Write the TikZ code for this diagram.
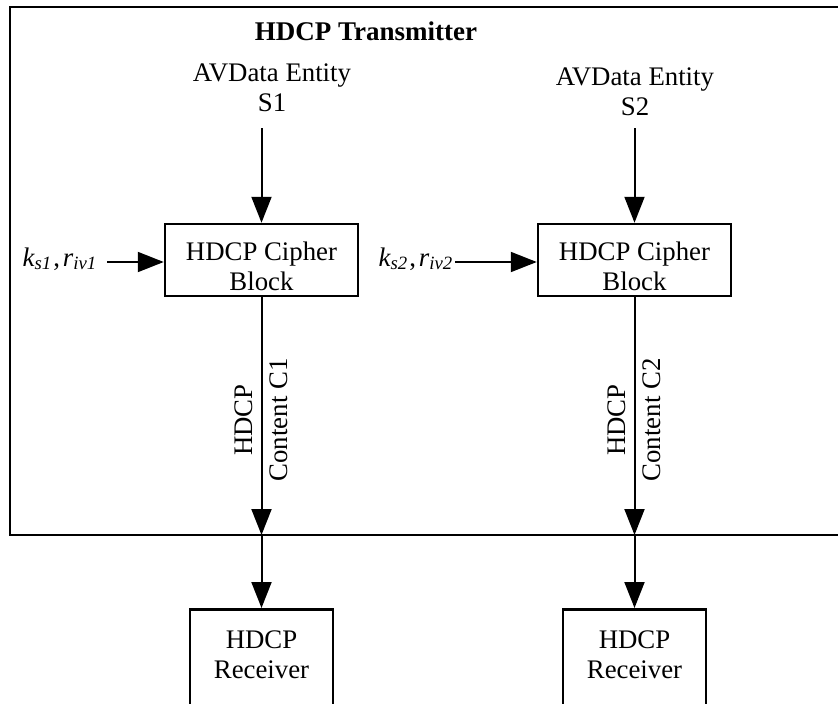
\documentclass[tikz,border=0pt]{standalone}
\usepackage{fontspec}
\setmainfont{Liberation Serif}
\usetikzlibrary{arrows.meta}
\newcommand{\kslabel}[2]{\textit{k\textsubscript{s#1}}\kern1.5pt,\kern3pt\textit{r\textsubscript{iv#2}}}
\begin{document}
\begin{tikzpicture}[x=1pt,y=-1pt,
  every node/.style={font=\fontsize{26.8}{30}\selectfont, inner sep=0pt},
  blockbox/.style={draw, line width=2.5pt, minimum width=193pt, minimum height=72pt, align=center},
  rxbox/.style={draw, line width=2.5pt, minimum width=143pt, minimum height=120pt, anchor=north},
  txt/.style={align=center},
  arr/.style={line width=2pt, -{Triangle[length=26pt,width=20pt]}}
]
\useasboundingbox (0,0) rectangle (838,704);
% outer transmitter frame (open to the right)
\draw[line width=2.5pt] (838,7) -| (10,535) -- (838,535);
\node[font=\fontsize{27}{30}\selectfont\bfseries] (title) at (366,31) {HDCP Transmitter};

% sources
\node[txt] (src1) at (272,88) {AVData Entity\\S1};
\node[txt] (src2) at (635,92) {AVData Entity\\S2};
\coordinate (a1) at (261.5,128);
\coordinate (a2) at (634.5,128);

% cipher blocks
\node[blockbox] (cb1) at (261.5,260) {\rule{0pt}{32pt}HDCP Cipher\\Block};
\node[blockbox] (cb2) at (634.5,260) {\rule{0pt}{32pt}HDCP Cipher\\Block};

% key labels
\node[anchor=base east] (key1) at (97,266) {\kslabel{1}{1}};
\node[anchor=base east] (key2) at (453,266) {\kslabel{2}{2}};
\coordinate (k1) at (107,262);
\coordinate (k2) at (455,262);

% frame crossing points
\coordinate (o1) at (261.5,535);
\coordinate (o2) at (634.5,535);

% receivers
\node[rxbox] (rx1) at (261.5,608) {};
\node[rxbox] (rx2) at (634.5,608) {};
\node[txt] (rt1) at (261.5,655) {HDCP\\Receiver};
\node[txt] (rt2) at (634.5,655) {HDCP\\Receiver};

% content labels
\node[txt, rotate=90] (c1) at (261.5,420) {HDCP\\[5pt]Content C1};
\node[txt, rotate=90] (c2) at (634.5,420) {HDCP\\[5pt]Content C2};

% connectors
\draw[arr] (a1) -- (cb1.north);
\draw[arr] (a2) -- (cb2.north);
\draw[arr] (k1) -- (k1 -| cb1.west);
\draw[arr] (k2) -- (k2 -| cb2.west);
\draw[arr] (cb1.south) -- (o1);
\draw[arr] (cb2.south) -- (o2);
\draw[arr] (o1) -- (rx1.north);
\draw[arr] (o2) -- (rx2.north);
\end{tikzpicture}
\end{document}
